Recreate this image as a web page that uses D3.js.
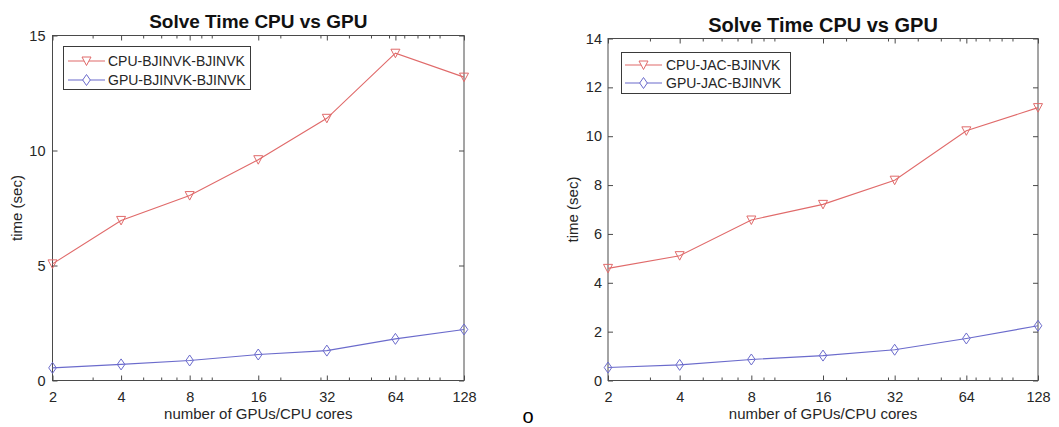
<!DOCTYPE html>
<html><head><meta charset="utf-8">
<script src="https://cdn.jsdelivr.net/npm/d3@7"></script>
<style>
html,body{margin:0;padding:0;background:#fff;}
svg{display:block;font-family:"Liberation Sans",Arial,sans-serif;}
</style></head>
<body>
<svg id="chart" width="1059" height="427"></svg>
<script>
// ---- data ----
const coreCounts = [2, 4, 8, 16, 32, 64, 128];
const xTickLabels = ["2", "4", "8", "16", "32", "64", "128"];
const xMinorTicks = [3, 5, 6, 7, 9, 10, 20, 30, 40, 50, 60, 70, 80, 90, 100];

const leftTitle = "Solve Time CPU vs GPU";
const leftSeriesNames = ["CPU-BJINVK-BJINVK", "GPU-BJINVK-BJINVK"];
const leftCPU = [5.07, 6.96, 8.04, 9.60, 11.40, 14.23, 13.19];
const leftGPU = [0.55, 0.70, 0.87, 1.13, 1.30, 1.81, 2.22];
const leftYTicks = [0, 5, 10, 15];

const rightTitle = "Solve Time CPU vs GPU";
const rightSeriesNames = ["CPU-JAC-BJINVK", "GPU-JAC-BJINVK"];
const rightCPU = [4.59, 5.11, 6.57, 7.21, 8.20, 10.22, 11.17];
const rightGPU = [0.53, 0.64, 0.86, 1.02, 1.26, 1.72, 2.24];
const rightYTicks = [0, 2, 4, 6, 8, 10, 12, 14];

const xLabel = "number of GPUs/CPU cores";
const yLabel = "time (sec)";
const strayText = "o";

// ---- styles ----
const RED = "#e06a6a", BLUE = "#6b6bcc", AXIS = "#4a4a4a", TXT = "#262626";
const svg = d3.select("#chart");

function drawPanel(p) {
  const g = svg.append("g");
  const x = d3.scaleLog().base(2).domain([2, 128]).range([p.x0, p.x1]);
  const y = d3.scaleLinear().domain([0, p.yMax]).range([p.y1, p.y0]);

  // box
  g.append("rect").attr("x", p.x0).attr("y", p.y0)
    .attr("width", p.x1 - p.x0).attr("height", p.y1 - p.y0)
    .attr("fill", "none").attr("stroke", AXIS).attr("stroke-width", 1);

  // x ticks (inward, bottom and top)
  const xAxisB = d3.axisBottom(x).tickValues(coreCounts).tickFormat((d, i) => xTickLabels[i]).tickSize(-5).tickPadding(11);
  const gxb = g.append("g").attr("transform", `translate(0,${p.y1})`).call(xAxisB);
  const xAxisT = d3.axisTop(x).tickValues(coreCounts).tickFormat("").tickSize(-5);
  const gxt = g.append("g").attr("transform", `translate(0,${p.y0})`).call(xAxisT);
  const mB = d3.axisBottom(x).tickValues(xMinorTicks).tickFormat("").tickSize(-3);
  const gmb = g.append("g").attr("transform", `translate(0,${p.y1})`).call(mB);
  const mT = d3.axisTop(x).tickValues(xMinorTicks).tickFormat("").tickSize(-3);
  const gmt = g.append("g").attr("transform", `translate(0,${p.y0})`).call(mT);

  // y ticks
  const yAxisL = d3.axisLeft(y).tickValues(p.yTicks).tickFormat(d3.format("d")).tickSize(-5).tickPadding(p.yPad);
  const gyl = g.append("g").attr("transform", `translate(${p.x0},0)`).call(yAxisL);
  const yAxisR = d3.axisRight(y).tickValues(p.yTicks).tickFormat("").tickSize(-5);
  const gyr = g.append("g").attr("transform", `translate(${p.x1},0)`).call(yAxisR);

  [gxb, gxt, gmb, gmt, gyl, gyr].forEach(a => {
    a.select(".domain").remove();
    a.selectAll(".tick line").attr("stroke", AXIS);
    a.selectAll("text").attr("fill", TXT).style("font-size", "14.5px").style("font-family", '"Liberation Sans",Arial,sans-serif');
  });
  gxb.selectAll("text").attr("dy", "0.71em");

  // title
  g.append("text").attr("x", (p.x0 + p.x1) / 2).attr("y", p.titleY)
    .attr("text-anchor", "middle").attr("font-weight", "bold")
    .attr("font-size", p.titleSize).attr("fill", "#111").text(p.title);

  // axis labels
  g.append("text").attr("x", (p.x0 + p.x1) / 2).attr("y", 419)
    .attr("text-anchor", "middle").attr("font-size", 15).attr("fill", TXT).text(xLabel);
  g.append("text").attr("transform", `translate(${p.yLabelX},${(p.y0 + p.y1) / 2}) rotate(-90)`)
    .attr("text-anchor", "middle").attr("font-size", 15).attr("fill", TXT).text(yLabel);

  // series
  const series = [
    { vals: p.cpu, color: RED, sym: "tri" },
    { vals: p.gpu, color: BLUE, sym: "dia" }
  ];
  const line = d3.line().x((d, i) => x(coreCounts[i])).y(d => y(d));
  const triPath = "M-4.5,-4 L4.5,-4 L0,4.5 Z";
  const diaPath = "M0,-5.5 L3.8,0 L0,5.5 L-3.8,0 Z";
  series.forEach(s => {
    g.append("path").datum(s.vals).attr("d", line)
      .attr("fill", "none").attr("stroke", s.color).attr("stroke-width", 1.1);
    g.selectAll(null).data(s.vals).enter().append("path")
      .attr("transform", (d, i) => `translate(${x(coreCounts[i])},${y(d)})`)
      .attr("d", s.sym === "tri" ? triPath : diaPath)
      .attr("fill", "none").attr("stroke", s.color).attr("stroke-width", 1);
  });

  // legend
  const L = p.legend;
  g.append("rect").attr("x", L.x).attr("y", L.y).attr("width", L.w).attr("height", L.h)
    .attr("fill", "#fff").attr("stroke", "#3a3a3a").attr("stroke-width", 1);
  p.names.forEach((name, i) => {
    const ry = L.rows[i];
    const s = series[i];
    g.append("line").attr("x1", L.lx0).attr("x2", L.lx1).attr("y1", ry).attr("y2", ry)
      .attr("stroke", s.color).attr("stroke-width", 1.1);
    g.append("path").attr("transform", `translate(${(L.lx0 + L.lx1) / 2},${ry})`)
      .attr("d", s.sym === "tri" ? triPath : diaPath)
      .attr("fill", "#fff").attr("stroke", s.color);
    g.append("text").attr("x", L.tx).attr("y", ry).attr("dy", "0.36em")
      .attr("font-size", 14).attr("fill", TXT).text(name);
  });
}

drawPanel({
  x0: 52.5, x1: 464, y0: 35.5, y1: 380.5, yMax: 15, yTicks: leftYTicks, yPad: 7,
  cpu: leftCPU, gpu: leftGPU, names: leftSeriesNames, title: leftTitle,
  titleY: 28, titleSize: 19, yLabelX: 22,
  legend: { x: 63.5, y: 46.5, w: 187, h: 43, rows: [61, 80], lx0: 68, lx1: 105, tx: 108 }
});
drawPanel({
  x0: 608, x1: 1038, y0: 38.5, y1: 380.5, yMax: 14, yTicks: rightYTicks, yPad: 6,
  cpu: rightCPU, gpu: rightGPU, names: rightSeriesNames, title: rightTitle,
  titleY: 31.5, titleSize: 20, yLabelX: 578,
  legend: { x: 621.5, y: 52.5, w: 169, h: 41, rows: [65, 83], lx0: 625, lx1: 662, tx: 666 }
});

svg.append("text").attr("x", 528).attr("y", 422.5).attr("text-anchor", "middle")
  .attr("font-size", 20).attr("fill", "#000").text(strayText);
</script>
</body></html>
